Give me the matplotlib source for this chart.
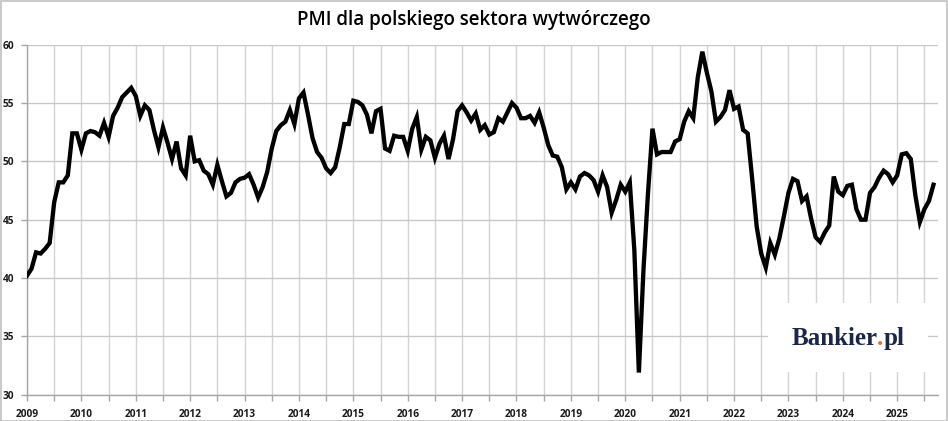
import matplotlib
matplotlib.use("Agg")
import matplotlib.pyplot as plt
from matplotlib.patches import Rectangle
import numpy as np

years = list(range(2009, 2026))
pmi = [
    # 2009
    40.2, 40.8, 42.2, 42.1, 42.5, 43.0, 46.5, 48.2, 48.2, 48.8, 52.4, 52.4,
    # 2010
    51.0, 52.4, 52.6, 52.5, 52.2, 53.3, 52.1, 53.9, 54.6, 55.5, 55.9, 56.3,
    # 2011
    55.6, 53.9, 54.8, 54.4, 52.7, 51.2, 52.9, 51.6, 50.2, 51.7, 49.4, 48.8,
    # 2012
    52.2, 50.0, 50.1, 49.2, 48.9, 48.0, 49.7, 48.3, 47.0, 47.3, 48.2, 48.5,
    # 2013
    48.6, 48.9, 48.0, 46.9, 47.8, 49.1, 51.1, 52.6, 53.1, 53.4, 54.4, 53.2,
    # 2014
    55.4, 55.9, 54.0, 52.0, 50.8, 50.3, 49.4, 49.0, 49.5, 51.2, 53.2, 53.2,
    # 2015
    55.2, 55.1, 54.8, 54.0, 52.4, 54.3, 54.5, 51.1, 50.9, 52.2, 52.1, 52.1,
    # 2016
    50.9, 52.8, 53.8, 51.0, 52.1, 51.8, 50.3, 51.5, 52.2, 50.2, 51.9, 54.3,
    # 2017
    54.8, 54.2, 53.5, 54.1, 52.7, 53.1, 52.3, 52.5, 53.7, 53.4, 54.2, 55.0,
    # 2018
    54.6, 53.7, 53.7, 53.9, 53.3, 54.2, 52.9, 51.4, 50.5, 50.4, 49.5, 47.6,
    # 2019
    48.2, 47.6, 48.7, 49.0, 48.8, 48.4, 47.4, 48.8, 47.8, 45.6, 46.7, 48.0,
    # 2020
    47.4, 48.2, 42.4, 31.9, 40.6, 47.2, 52.8, 50.6, 50.8, 50.8, 50.8, 51.7,
    # 2021
    51.9, 53.4, 54.3, 53.7, 57.2, 59.4, 57.6, 56.0, 53.4, 53.8, 54.4, 56.1,
    # 2022
    54.5, 54.7, 52.7, 52.4, 48.5, 44.4, 42.1, 40.9, 43.0, 42.0, 43.4, 45.3,
    # 2023
    47.3, 48.5, 48.3, 46.6, 47.0, 45.1, 43.5, 43.1, 43.9, 44.5, 48.7, 47.4,
    # 2024
    47.1, 47.9, 48.0, 45.9, 45.0, 45.0, 47.3, 47.8, 48.6, 49.2, 48.9, 48.2,
    # 2025
    48.8, 50.6, 50.7, 50.2, 47.1, 44.8, 45.9, 46.6, 48.0,
]
y_ticks = [30, 35, 40, 45, 50, 55, 60]
title = "PMI dla polskiego sektora wytwórczego"

months = np.arange(len(pmi))

fig = plt.figure(figsize=(9.48, 4.21), dpi=100)
ax = fig.add_axes([27/948, 1-394.7/421, 911/948, 350/421])

ax.plot(months, pmi, color="black", lw=3.1, solid_joinstyle="miter", zorder=3)

ax.set_xlim(0, 201)
ax.set_ylim(30, 60)
ax.set_yticks(y_ticks)
ax.set_xticks([12*(y-2009) for y in years])
ax.set_xticklabels([str(y) for y in years])
ax.set_xticks([6 + 12*(y-2009) for y in years if 6 + 12*(y-2009) < 201], minor=True)

ax.grid(True, which="both", axis="x", color="#d4d4d4", lw=1.0, zorder=0)
ax.grid(True, which="major", axis="y", color="#c8c8c8", lw=1.0, zorder=0)

for s in ["top", "right"]:
    ax.spines[s].set_visible(False)
for s in ["left", "bottom"]:
    ax.spines[s].set_color("#a6a6a6")
    ax.spines[s].set_linewidth(1.0)

ax.tick_params(axis="both", which="both", length=4, color="#a6a6a6", width=1)
ax.tick_params(axis="y", pad=5)
ax.tick_params(axis="x", pad=6)
for lab in ax.get_xticklabels() + ax.get_yticklabels():
    lab.set_fontfamily("Open Sans")
    lab.set_fontweight("bold")
    lab.set_fontsize(7.3)
    lab.set_color("#1a1a1a")

fig.text(0.5, 1-20/421, title, ha="center", va="center",
         fontsize=13.5, family="Open Sans", fontweight="semibold", color="black")

# logo box
ax.add_patch(Rectangle((0.813, 0.065), 0.176, 0.197, transform=ax.transAxes,
                       facecolor="white", edgecolor="none", zorder=4))
navy = "#1b2746"
fs = 18
t1 = ax.text(0.839, 0.128, "Bankier", transform=ax.transAxes, ha="left", va="bottom",
             fontsize=fs, family="Liberation Serif", fontweight="bold", color=navy, zorder=5)
t2 = ax.annotate(".", xy=(1, 0), xycoords=t1, ha="left", va="bottom",
                 fontsize=fs, family="Liberation Serif", fontweight="bold",
                 color="#f26a2e", zorder=5)
t3 = ax.annotate("pl", xy=(1, 0), xycoords=t2, ha="left", va="bottom",
                 fontsize=fs, family="Liberation Serif", fontweight="bold",
                 color=navy, zorder=5)

fig.patches.append(Rectangle((0.001, 0.001), 0.998, 0.997, transform=fig.transFigure,
                             facecolor="none", edgecolor="#c0c0c0", lw=1.2))

fig.savefig("out.png", dpi=100)
